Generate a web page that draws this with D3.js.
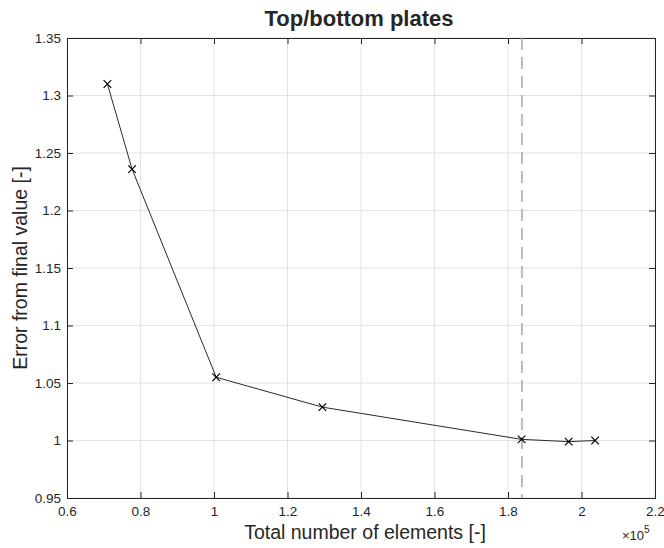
<!DOCTYPE html>
<html lang="en">
<head>
<meta charset="UTF-8">
<title>Top/bottom plates</title>
<script src="https://d3js.org/d3.v7.min.js"></script>
<style>
  body { margin: 0; background: #fff; }
  text { font-family: "Liberation Sans", Arial, sans-serif; fill: #262626; }
</style>
</head>
<body>
<svg width="664" height="548"></svg>
<script>
// values (x in units of 1e5 elements)
const elements = [0.71, 0.777, 1.006, 1.295, 1.837, 1.965, 2.037];
const errors = [1.310, 1.236, 1.055, 1.029, 1.001, 0.999, 1.000];
const chosenMesh = 1.838;
const xTicks = [0.6, 0.8, 1, 1.2, 1.4, 1.6, 1.8, 2, 2.2];
const yTicks = [0.95, 1, 1.05, 1.1, 1.15, 1.2, 1.25, 1.3, 1.35];

const svg = d3.select("svg");
const mLeft = 67, mRight = 655, mTop = 38, mBottom = 498;

const x = d3.scaleLinear().domain([0.6, 2.2]).range([mLeft, mRight]);
const y = d3.scaleLinear().domain([0.95, 1.35]).range([mBottom, mTop]);

// grid
svg.append("g").selectAll("line").data(xTicks).join("line")
  .attr("x1", d => x(d)).attr("x2", d => x(d))
  .attr("y1", mTop).attr("y2", mBottom)
  .attr("stroke", "#e3e3e3").attr("stroke-width", 1);
svg.append("g").selectAll("line").data(yTicks).join("line")
  .attr("x1", mLeft).attr("x2", mRight)
  .attr("y1", d => y(d)).attr("y2", d => y(d))
  .attr("stroke", "#e3e3e3").attr("stroke-width", 1);

// axes (ticks inward, MATLAB style)
const fmt = d => String(+d.toFixed(2));
const xAxis = svg.append("g").attr("transform", `translate(0,${mBottom})`)
  .call(d3.axisBottom(x).tickValues(xTicks).tickFormat(fmt).tickSize(-6).tickPadding(8));
const xTop = svg.append("g").attr("transform", `translate(0,${mTop})`)
  .call(d3.axisTop(x).tickValues(xTicks).tickFormat("").tickSize(-6));
const yAxis = svg.append("g").attr("transform", `translate(${mLeft},0)`)
  .call(d3.axisLeft(y).tickValues(yTicks).tickFormat(fmt).tickSize(-6).tickPadding(6));
const yRight = svg.append("g").attr("transform", `translate(${mRight},0)`)
  .call(d3.axisRight(y).tickValues(yTicks).tickFormat("").tickSize(-6));

[xAxis, xTop, yAxis, yRight].forEach(g => {
  g.select(".domain").attr("stroke", "#262626").attr("stroke-width", 1);
  g.selectAll(".tick line").attr("stroke", "#262626");
  g.selectAll(".tick text").attr("font-size", 13.5).attr("fill", "#262626")
    .style("font-family", "'Liberation Sans', Arial, sans-serif");
});

// dashed reference line
svg.append("line")
  .attr("x1", x(chosenMesh)).attr("x2", x(chosenMesh))
  .attr("y1", mTop).attr("y2", mBottom)
  .attr("stroke", "#a6a6a6").attr("stroke-width", 1.5)
  .attr("stroke-dasharray", "12,7");

// series
const pts = elements.map((e, i) => [e, errors[i]]);
svg.append("path").datum(pts)
  .attr("fill", "none").attr("stroke", "#111").attr("stroke-width", 0.9)
  .attr("d", d3.line().x(d => x(d[0])).y(d => y(d[1])));

const s = 3.8;
svg.append("g").selectAll("path").data(pts).join("path")
  .attr("d", d => {
    const cx = x(d[0]), cy = y(d[1]);
    return `M${cx - s},${cy - s}L${cx + s},${cy + s}M${cx - s},${cy + s}L${cx + s},${cy - s}`;
  })
  .attr("stroke", "#000").attr("stroke-width", 1.2);

// labels
svg.append("text").attr("x", 359).attr("y", 26)
  .attr("text-anchor", "middle").attr("font-size", 22).attr("font-weight", "bold")
  .attr("fill", "#000").text("Top/bottom plates");

svg.append("text").attr("x", 365).attr("y", 539)
  .attr("text-anchor", "middle").attr("font-size", 19.5)
  .text("Total number of elements [-]");

svg.append("text")
  .attr("transform", `translate(27,${(mTop + mBottom) / 2}) rotate(-90)`)
  .attr("text-anchor", "middle").attr("font-size", 19.5)
  .text("Error from final value [-]");

const exp = svg.append("text").attr("x", 622).attr("y", 540).attr("font-size", 13);
exp.append("tspan").text("\u00d710");
exp.append("tspan").attr("dy", -7).attr("font-size", 10).text("5");
</script>
</body>
</html>
